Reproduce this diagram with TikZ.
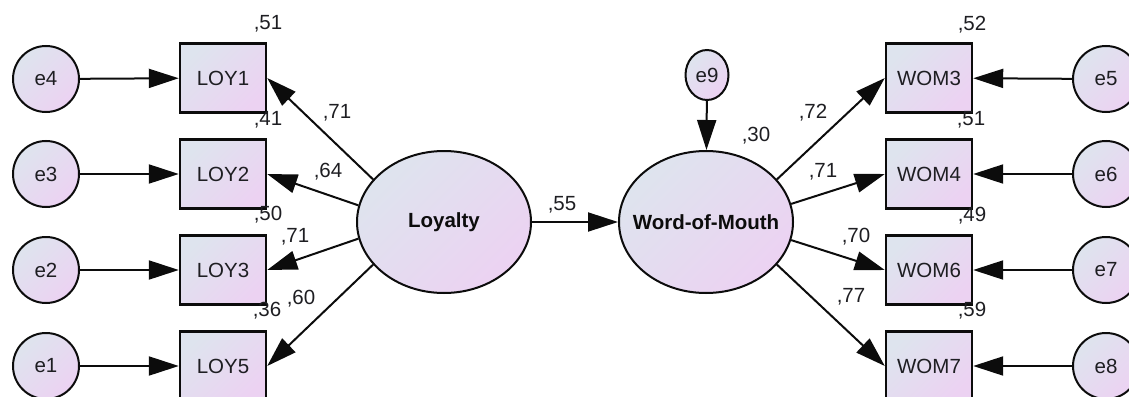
\documentclass[tikz,border=0pt]{standalone}
\usepackage{fontspec}
\setmainfont{Liberation Sans}
\usetikzlibrary{arrows.meta,shapes.geometric}
\definecolor{cA}{RGB}{222,228,238}
\definecolor{cB}{RGB}{236,210,242}
\definecolor{ink}{RGB}{12,12,12}
\definecolor{tink}{RGB}{30,30,34}
\tikzset{
  grad/.style={top color=cA, bottom color=cB, shading angle=45},
  txt/.style={font=\fontsize{20.5}{24}\selectfont, text=tink},
  obs/.style={rectangle, draw=ink, line width=2.4pt, grad, minimum width=86pt, minimum height=69pt, inner sep=0pt, txt},
  err/.style={circle, draw=ink, line width=2pt, grad, minimum size=66pt, inner sep=0pt, txt},
  errsmall/.style={ellipse, draw=ink, line width=2pt, grad, minimum width=43pt, minimum height=50pt, inner sep=0pt, txt},
  lat/.style={ellipse, draw=ink, line width=2pt, grad, minimum width=174pt, minimum height=142pt, inner sep=0pt},
  lattxt/.style={font=\bfseries\fontsize{20.5}{24}\selectfont, text=ink, inner sep=0pt},
  lbl/.style={txt, inner sep=0pt},
  arr/.style={draw=ink, line width=2pt, -{Triangle[length=30pt,width=19pt]}},
}
\begin{document}
\begin{tikzpicture}[x=1pt,y=-1pt]
\useasboundingbox (0,0) rectangle (1129,396);
% latent variables
\node[lat] (loy) at (444,222) {};
\node[lattxt] (loyt) at (loy.center) {Loyalty};
\node[lat] (wom) at (706,222) {};
\node[lattxt] (womt) at (wom.center) {Word-of-Mouth};
% observed left
\node[obs] (loy1) at (223,78) {LOY1};
\node[obs] (loy2) at (223,174) {LOY2};
\node[obs] (loy3) at (223,270) {LOY3};
\node[obs] (loy5) at (223,366) {LOY5};
% observed right
\node[obs] (wom3) at (929,78) {WOM3};
\node[obs] (wom4) at (929,174) {WOM4};
\node[obs] (wom6) at (929,270) {WOM6};
\node[obs] (wom7) at (929,366) {WOM7};
% errors
\node[err] (e4) at (46,79) {e4};
\node[err] (e3) at (46,174) {e3};
\node[err] (e2) at (46,270) {e2};
\node[err] (e1) at (46,366) {e1};
\node[err] (e5) at (1106,79) {e5};
\node[err] (e6) at (1106,174) {e6};
\node[err] (e7) at (1106,270) {e7};
\node[err] (e8) at (1106,366) {e8};
\node[errsmall] (e9) at (707,75) {e9};
% connectors
\draw[arr] (e4) -- (loy1);
\draw[arr] (e3) -- (loy2);
\draw[arr] (e2) -- (loy3);
\draw[arr] (e1) -- (loy5);
\draw[arr] (e5) -- (wom3);
\draw[arr] (e6) -- (wom4);
\draw[arr] (e7) -- (wom6);
\draw[arr] (e8) -- (wom7);
\draw[arr] (loy.149) -- (loy1.east);
\draw[arr] (loy.169) -- (loy2.east);
\draw[arr] (loy.191) -- (loy3.east);
\draw[arr] (loy.211) -- (loy5.east);
\draw[arr] (wom.31) -- (wom3.west);
\draw[arr] (wom.12) -- (wom4.west);
\draw[arr] (wom.-12) -- (wom6.west);
\draw[arr] (wom.-31) -- (wom7.west);
\draw[arr] (loy) -- (wom);
\draw[arr] (e9) -- (wom);
% squared multiple correlations
\node[lbl] (r1) at (268,24) {,51};
\node[lbl] (r2) at (268,120) {,41};
\node[lbl] (r3) at (268,215) {,50};
\node[lbl] (r4) at (267,311) {,36};
\node[lbl] (r5) at (972,25) {,52};
\node[lbl] (r6) at (971,120) {,51};
\node[lbl] (r7) at (972,216) {,49};
\node[lbl] (r8) at (972,311) {,59};
\node[lbl] (r9) at (756,136) {,30};
% path coefficients
\node[lbl] (p1) at (337,113) {,71};
\node[lbl] (p2) at (328,172) {,64};
\node[lbl] (p3) at (295,237) {,71};
\node[lbl] (p4) at (301,299) {,60};
\node[lbl] (p5) at (562,205) {,55};
\node[lbl] (p6) at (813,113) {,72};
\node[lbl] (p7) at (823,172) {,71};
\node[lbl] (p8) at (856,237) {,70};
\node[lbl] (p9) at (851,297) {,77};
\end{tikzpicture}
\end{document}
